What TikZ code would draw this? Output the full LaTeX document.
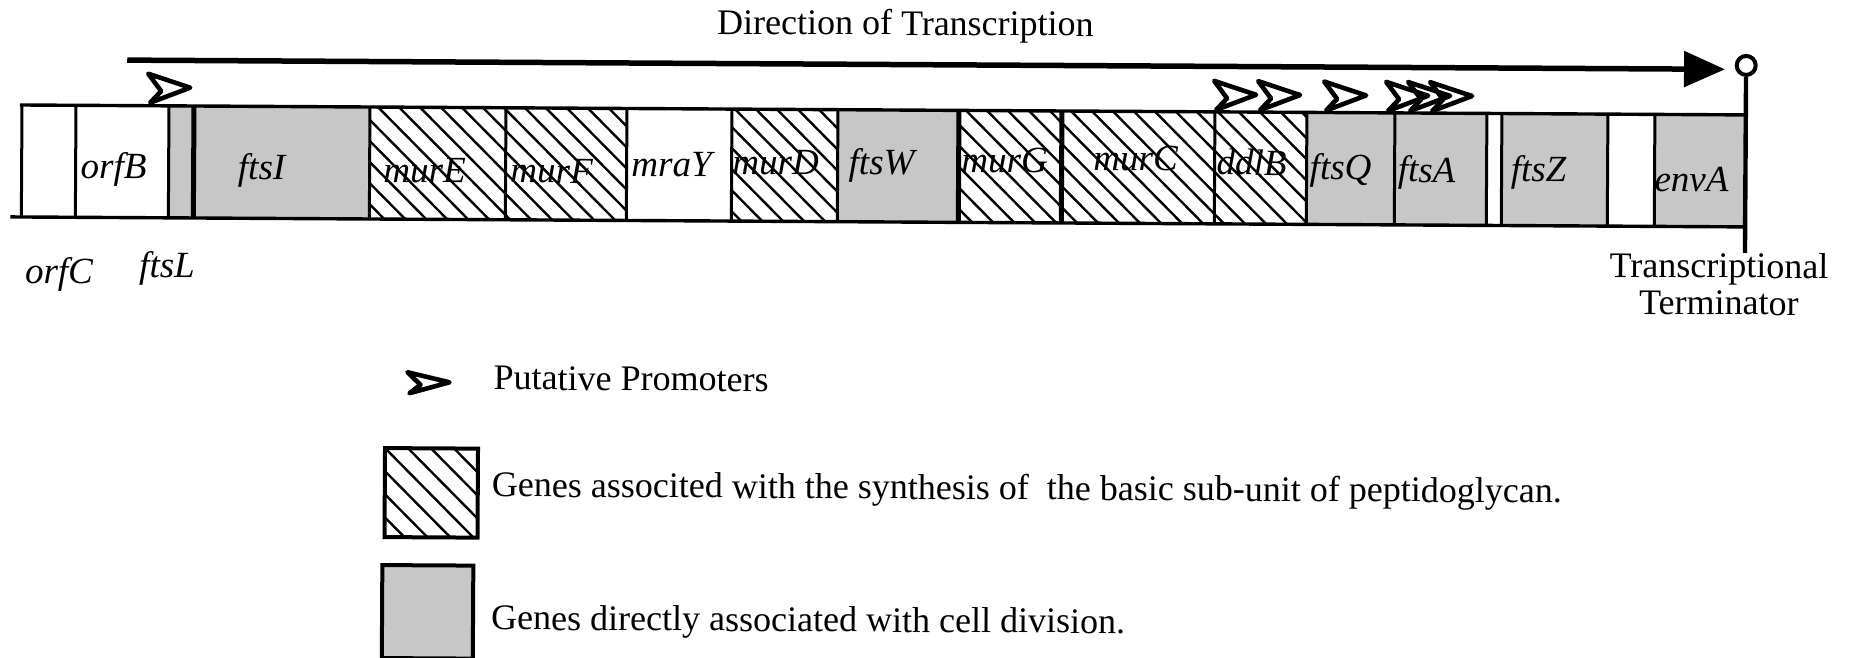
\documentclass[tikz,border=0pt]{standalone}
\usepackage{fontspec}
\setmainfont{Liberation Serif}
\usetikzlibrary{arrows.meta}
\begin{document}
\begin{tikzpicture}[x=1pt,y=-1pt,
  genelabel/.style={font=\fontsize{37}{40}\selectfont\itshape, anchor=base, inner sep=0pt, transform shape},
  plain/.style={font=\fontsize{36}{40}\selectfont, inner sep=0pt, transform shape},
  rail/.style={line width=3.4pt},
  sep/.style={line width=3pt},
  thicksep/.style={line width=5pt},
  stipple/.style={fill=black!22},
  hatchline/.style={line width=2.4pt},
  prom/.style={line width=4.6pt, line join=round},
  pics/promoter/.style={code={\draw[prom] (0,0) -- (42,#1*0.48) -- (2,#1) -- (13,#1*0.6) -- cycle;}}
]
\useasboundingbox (0,0) rectangle (1849,658);
\begin{scope}[rotate around={-0.33:(20,105)}]

% ---- title and direction arrow
\node[plain, anchor=base] (title) at (905,30) {Direction of Transcription};
\coordinate (txstart) at (127,59.5);
\coordinate (txend) at (1725,59.5);
\draw[line width=5.5pt, -{Triangle[length=41pt,width=35pt]}] (txstart) -- (txend);

% ---- gene fills
\fill[stipple] (169,105) rectangle (194,217);   % ftsL
\fill[stipple] (194,105) rectangle (370,217);   % ftsI
\fill[stipple] (838,105) rectangle (959,217);   % ftsW
\fill[stipple] (1307,105) rectangle (1395,217); % ftsQ
\fill[stipple] (1395,105) rectangle (1487,217); % ftsA
\fill[stipple] (1502,105) rectangle (1608,217); % ftsZ
\fill[stipple] (1655,105) rectangle (1744,217); % envA

% ---- hatching of the mur/ddl genes
\begin{scope}
  \clip (370,105) rectangle (627,217)
        (732,105) rectangle (838,217)
        (959,105) rectangle (1307,217);
  \foreach \k in {252,273,...,1320}
    \draw[hatchline] (\k,105) -- ++(112,112);
\end{scope}

% ---- separators between genes
\foreach \xx in {22,76,169,370,506,627,732,838,1215,1307,1395,1487,1502,1608,1655}
  \draw[sep] (\xx,105) -- (\xx,217);
\foreach \xx in {194,959,1062}
  \draw[thicksep] (\xx,105) -- (\xx,217);

% ---- top and bottom strands
\coordinate (topL) at (20,105);
\coordinate (topR) at (1746,105);
\coordinate (botL) at (11,217);
\coordinate (botR) at (1746,217);
\draw[rail] (topL) -- (topR);
\draw[rail] (botL) -- (botR);

% ---- transcriptional terminator
\node[circle, draw, line width=4pt, minimum size=19pt, inner sep=0pt, fill=white] (term) at (1746,55.5) {};
\coordinate (termfoot) at (1746,243);
\draw[line width=4.4pt] (term.south) -- (termfoot);
\node[plain, anchor=base] (termA) at (1720,268) {Transcriptional};
\node[plain, anchor=base] (termB) at (1720,305) {Terminator};

% ---- promoters
\pic at (148,73) {promoter=29};
\pic at (1214,74) {promoter=29};
\pic at (1258,74) {promoter=29};
\pic at (1324,74) {promoter=29};
\pic at (1386,74) {promoter=29};
\pic at (1408,74) {promoter=29};
\pic at (1430,74) {promoter=29};

% ---- gene names
\node[genelabel] (orfC) at (60,283) {orfC};
\node[genelabel] (ftsL) at (168,277) {ftsL};
\node[genelabel] (orfB) at (114,178) {orfB};
\node[genelabel] (ftsI) at (262,178) {ftsI};
\node[genelabel] (murE) at (425,180) {murE};
\node[genelabel] (murF) at (552,180) {murF};
\node[genelabel] (mraY) at (672,173) {mraY};
\node[genelabel] (murD) at (776,170) {murD};
\node[genelabel] (ftsW) at (882,170) {ftsW};
\node[genelabel] (murG) at (1005,167) {murG};
\node[genelabel] (murC) at (1136,164) {murC};
\node[genelabel] (ddlB) at (1252,168) {ddlB};
\node[genelabel] (ftsQ) at (1341,172) {ftsQ};
\node[genelabel] (ftsA) at (1427,174) {ftsA};
\node[genelabel] (ftsZ) at (1539,173) {ftsZ};
\node[genelabel] (envA) at (1692,182) {envA};

% ---- legend
\pic at (409,370) {promoter=21};
\node[plain, anchor=base west] (legP) at (495,387) {Putative Promoters};

\begin{scope}
  \clip (387,446) rectangle (480,535);
  \foreach \k in {295,318,...,480}
    \draw[hatchline] (\k,446) -- ++(89,89);
\end{scope}
\draw[line width=4pt] (387,446) rectangle (480,535);
\node[plain, anchor=base west] (legH) at (494,494) {Genes associted with the synthesis of\ \ the basic sub-unit of peptidoglycan.};

\fill[stipple] (385,563) rectangle (476,656);
\draw[line width=4pt] (385,563) rectangle (476,656);
\node[plain, anchor=base west] (legD) at (494,627) {Genes directly associated with cell division.};
\end{scope}
\end{tikzpicture}
\end{document}
